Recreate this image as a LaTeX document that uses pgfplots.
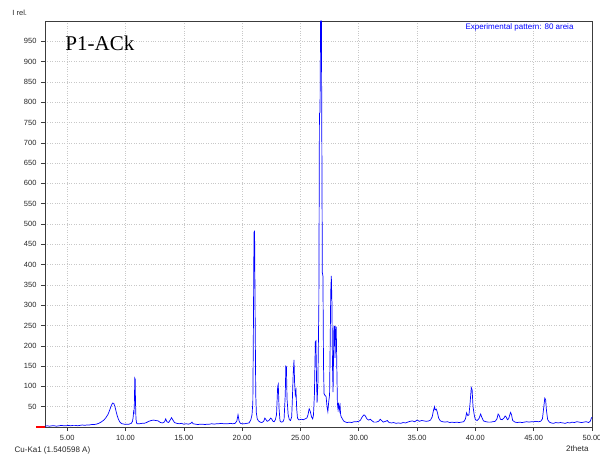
\documentclass[border=0pt]{standalone}
\usepackage{pgfplots}
\pgfplotsset{compat=1.18}
\usepackage{fontspec}
\setmainfont{Liberation Sans}
\newfontfamily\titlefont{Liberation Serif}
\definecolor{specblue}{RGB}{0,0,255}
\definecolor{framegray}{RGB}{60,60,60}
\definecolor{gridgray}{RGB}{200,200,200}
\begin{document}
\begin{tikzpicture}
\useasboundingbox (-45pt,-34pt) rectangle (555pt,427pt);
\begin{axis}[
  anchor=south west, at={(0pt,0pt)},
  scale only axis, width=547pt, height=406pt,
  xmin=3.1, xmax=50, ymin=0, ymax=1000,
  clip=false,
  xtick={5,10,...,50}, ytick={50,100,...,950},
  grid=major,
  major grid style={gridgray, dotted, line width=0.5pt},
  axis line style={framegray, line width=0.6pt},
  tick align=outside, major tick length=4pt,
  tick style={framegray, line width=0.5pt},
  xtick pos=bottom, ytick pos=left,
  /pgf/number format/assume math mode=true,
  xticklabel={\pgfmathprintnumber[fixed, fixed zerofill, precision=2]{\tick}},
  ticklabel style={font=\fontsize{7.5}{9}\selectfont, text=black!85},
  xticklabel style={yshift=-1pt},
  yticklabel style={xshift=-1pt},
]
\addplot[specblue, line width=0.7pt] coordinates {
(3.1,2) (3.3,3) (3.5,2) (3.7,3) (3.9,3) (4.1,2) (4.3,3) (4.5,4) (4.7,3) (4.9,3)
(5.1,4) (5.3,3) (5.5,4) (5.7,4) (5.9,3) (6.1,4) (6.3,5) (6.5,4) (6.7,5) (6.9,5)
(7.1,6) (7.3,6) (7.5,7) (7.7,9) (7.9,12) (8.1,16) (8.3,22) (8.5,31) (8.6,38) (8.7,46)
(8.8,54) (8.9,59) (9.0,58) (9.1,50) (9.2,38) (9.3,27) (9.4,19) (9.5,13) (9.6,10) (9.7,8)
(9.9,7) (10.1,7) (10.3,7) (10.5,9) (10.6,14) (10.65,22) (10.7,38) (10.73,36) (10.76,55) (10.8,120)
(10.83,118) (10.86,60) (10.9,20) (10.95,10) (11.0,8) (11.2,8) (11.4,9) (11.6,9) (11.8,11) (12.0,14)
(12.2,16) (12.4,17) (12.6,16) (12.8,15) (13.0,11) (13.2,10) (13.35,13) (13.45,20) (13.55,13) (13.7,11)
(13.85,18) (13.95,23) (14.05,18) (14.2,11) (14.4,9) (14.6,8) (14.8,9) (15.0,7) (15.2,8) (15.4,7)
(15.6,9) (15.7,12) (15.8,8) (16.0,7) (16.2,6) (16.4,7) (16.6,7) (16.8,6) (17.0,7) (17.2,7)
(17.4,8) (17.6,7) (17.8,8) (18.0,8) (18.2,9) (18.4,8) (18.6,8) (18.8,8) (19.0,9) (19.2,8)
(19.4,9) (19.55,15) (19.65,30) (19.75,14) (19.85,9) (20.0,8) (20.2,8) (20.4,9) (20.6,10) (20.75,18)
(20.85,30) (20.92,60) (20.97,250) (21.02,480) (21.07,482) (21.12,262) (21.17,80) (21.22,35) (21.3,20) (21.4,15)
(21.55,12) (21.7,11) (21.85,14) (21.95,22) (22.05,18) (22.15,14) (22.3,16) (22.45,22) (22.55,19) (22.65,14)
(22.75,13) (22.85,18) (22.95,30) (23.05,100) (23.1,105) (23.17,45) (23.25,15) (23.35,12) (23.5,13) (23.6,20)
(23.7,80) (23.75,150) (23.8,148) (23.85,70) (23.95,30) (24.05,18) (24.15,16) (24.25,25) (24.3,60) (24.38,130)
(24.45,165) (24.5,110) (24.56,80) (24.62,90) (24.68,45) (24.75,22) (24.85,18) (24.95,18) (25.1,19) (25.25,18)
(25.4,20) (25.55,22) (25.65,30) (25.75,45) (25.85,38) (25.95,25) (26.05,20) (26.12,30) (26.2,80) (26.28,210)
(26.33,212) (26.38,120) (26.43,60) (26.5,110) (26.58,300) (26.63,772) (26.68,775) (26.73,1000) (26.8,1000) (26.85,600)
(26.88,380) (26.93,372) (26.98,150) (27.03,82) (27.1,78) (27.2,75) (27.28,50) (27.35,38) (27.42,60) (27.5,80)
(27.55,200) (27.6,333) (27.65,372) (27.7,308) (27.75,150) (27.8,86) (27.87,247) (27.92,248) (27.97,170) (28.02,247)
(28.07,246) (28.12,150) (28.17,59) (28.22,45) (28.28,60) (28.33,40) (28.4,52) (28.45,30) (28.5,25) (28.6,20)
(28.7,15) (28.8,13) (28.9,12) (29.0,11) (29.2,12) (29.4,11) (29.6,13) (29.8,13) (30.0,14) (30.15,17)
(30.3,25) (30.45,30) (30.55,28) (30.7,20) (30.85,17) (31.0,19) (31.15,15) (31.3,12) (31.5,12) (31.7,14)
(31.85,19) (31.95,16) (32.1,12) (32.3,14) (32.45,16) (32.6,11) (32.8,10) (33.0,11) (33.2,9) (33.4,10)
(33.6,9) (33.8,11) (34.0,10) (34.2,12) (34.4,14) (34.6,15) (34.8,13) (35.0,17) (35.2,14) (35.4,16)
(35.6,15) (35.8,14) (36.0,15) (36.15,17) (36.3,25) (36.4,40) (36.5,50) (36.55,42) (36.65,44) (36.75,35)
(36.85,22) (37.0,15) (37.2,13) (37.4,12) (37.6,13) (37.8,11) (38.0,12) (38.2,11) (38.4,12) (38.6,11)
(38.8,12) (39.0,13) (39.15,20) (39.25,35) (39.35,28) (39.45,30) (39.55,60) (39.65,97) (39.72,92) (39.8,50)
(39.9,30) (40.0,18) (40.15,16) (40.3,20) (40.45,32) (40.55,24) (40.7,15) (40.9,13) (41.1,12) (41.3,12)
(41.5,13) (41.7,14) (41.85,20) (41.95,32) (42.05,28) (42.15,19) (42.3,18) (42.45,22) (42.55,27) (42.65,24)
(42.75,18) (42.85,20) (42.95,30) (43.02,36) (43.1,30) (43.2,16) (43.4,12) (43.6,11) (43.8,12) (44.0,11)
(44.2,12) (44.4,13) (44.6,12) (44.8,13) (45.0,13) (45.2,14) (45.4,13) (45.6,14) (45.75,20) (45.85,45)
(45.95,71) (46.02,68) (46.1,40) (46.2,18) (46.35,12) (46.5,10) (46.7,9) (46.9,11) (47.1,10) (47.3,11)
(47.5,10) (47.7,9) (47.9,11) (48.1,10) (48.3,12) (48.5,11) (48.7,13) (48.9,12) (49.1,11) (49.3,12)
(49.5,13) (49.7,11) (49.85,14) (49.95,22) (50.0,24)
};
% origin marker on the baseline
\addplot[red, line width=2pt] coordinates {(2.33,0) (3.1,0)};
\node[anchor=east, text=specblue, font=\fontsize{8}{9}\selectfont]
  at (rel axis cs:0.9726,0.983) {Experimental pattern: 80 areia};
\node[anchor=west, font=\titlefont\fontsize{21}{24}\selectfont]
  at (rel axis cs:0.031,0.946) {P1-ACk};
\node[anchor=west, font=\fontsize{7.5}{9}\selectfont, text=black!85]
  at (rel axis cs:-0.066,1.0197) {I rel.};
\node[anchor=west, font=\fontsize{8}{9}\selectfont, text=black!85]
  at (rel axis cs:-0.062,-0.0567) {Cu-Ka1 (1.540598 A)};
\node[anchor=east, font=\fontsize{8}{9}\selectfont, text=black!85]
  at (rel axis cs:1.0,-0.054) {2theta};
\end{axis}
\end{tikzpicture}
\end{document}
